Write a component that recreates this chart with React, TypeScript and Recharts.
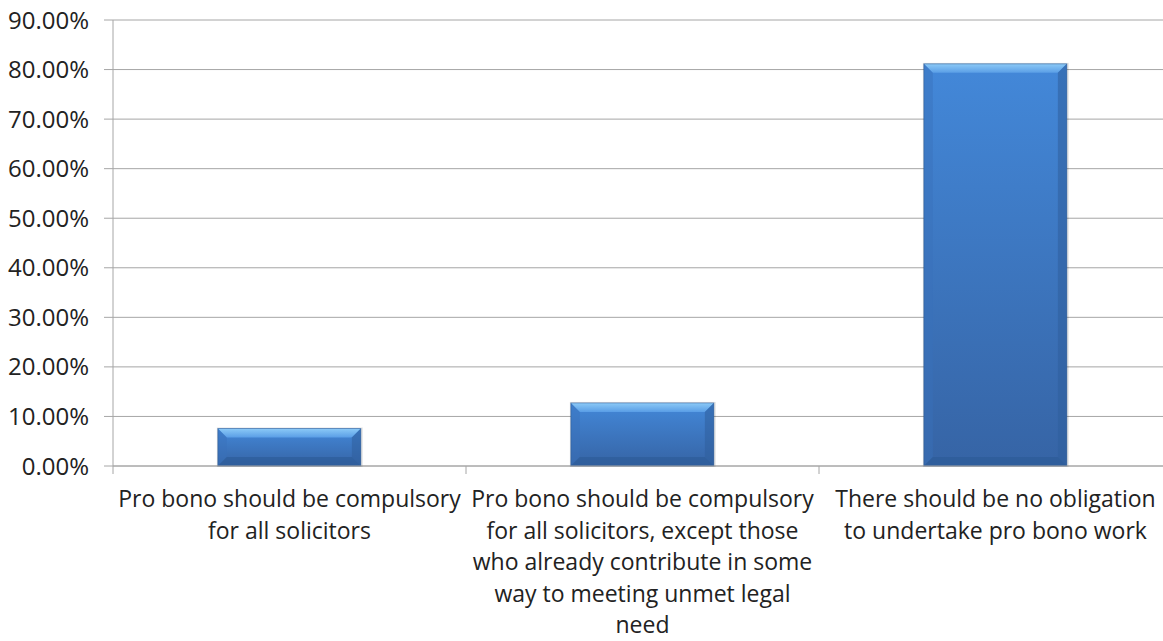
import { BarChart, Bar, XAxis, YAxis, CartesianGrid } from 'recharts'

const categories = [
  'Pro bono should be compulsory for all solicitors',
  'Pro bono should be compulsory for all solicitors, except those who already contribute in some way to meeting unmet legal need',
  'There should be no obligation to undertake pro bono work',
]
const shares = [0.0757, 0.1273, 0.8115]
const tickLines = [
  ['Pro bono should be compulsory', 'for all solicitors'],
  ['Pro bono should be compulsory', 'for all solicitors, except those', 'who already contribute in some', 'way to meeting unmet legal', 'need'],
  ['There should be no obligation', 'to undertake pro bono work'],
]
const yTicks = [0, 0.1, 0.2, 0.3, 0.4, 0.5, 0.6, 0.7, 0.8, 0.9]

const data = categories.map((name, i) => ({ name, share: shares[i], lines: tickLines[i] }))

const W = 1180
const H = 641
const AXIS_W = 113
const RIGHT = 8
const BAND = (W - AXIS_W - RIGHT) / categories.length
const FONT = '"Open Sans", sans-serif'
const GRID = '#a6a6a6'

function CategoryTick(props: any) {
  const { x, y, index } = props
  const lines = tickLines[index] || []
  const left = x - BAND / 2
  return (
    <g>
      <line x1={left} x2={left} y1={y - 8} y2={y} stroke={GRID} />
      <text x={x} y={y} textAnchor="middle" fontFamily={FONT} fontSize={23} fill="#222">
        {lines.map((l, i) => (
          <tspan key={i} x={x} y={y + 33 + i * 31.5}>{l}</tspan>
        ))}
      </text>
    </g>
  )
}

function BevelBar(props: any) {
  const { x, y, width, height } = props
  if (!height || height <= 0) return null
  const b = Math.min(9, height / 3)
  return (
    <g>
      <rect x={x - 1} y={y - 1} width={width + 3} height={height + 2} fill="#000" opacity={0.1} />
      <rect x={x} y={y} width={width} height={height} fill="url(#barBody)" />
      <polygon points={`${x},${y} ${x + width},${y} ${x + width - b},${y + b} ${x + b},${y + b}`} fill="url(#barTop)" />
      <polygon points={`${x},${y} ${x + b},${y + b} ${x + b},${y + height - b} ${x},${y + height}`} fill="#3a72bb" opacity={0.45} />
      <polygon points={`${x + width},${y} ${x + width},${y + height} ${x + width - b},${y + height - b} ${x + width - b},${y + b}`} fill="#2f5e9c" opacity={0.55} />
      <polygon points={`${x},${y + height} ${x + b},${y + height - b} ${x + width - b},${y + height - b} ${x + width},${y + height}`} fill="#2c5a96" opacity={0.6} />
      <rect x={x} y={y} width={width} height={height} fill="none" stroke="#2d5890" strokeWidth={1} opacity={0.5} />
    </g>
  )
}

export default function App() {
  return (
    <div style={{ position: 'absolute', left: 0, top: 0, width: 1163, height: H, overflow: 'hidden', background: '#fff' }}>
      <BarChart width={W} height={H} data={data} margin={{ top: 20, right: RIGHT, bottom: 0, left: 0 }} barCategoryGap="29.7%">
        <defs>
          <linearGradient id="barBody" x1="0" y1="0" x2="0" y2="1">
            <stop offset="0%" stopColor="#4388d9" />
            <stop offset="100%" stopColor="#3664a5" />
          </linearGradient>
          <linearGradient id="barTop" x1="0" y1="0" x2="0" y2="1">
            <stop offset="0%" stopColor="#8ccaf7" />
            <stop offset="100%" stopColor="#5a9ee6" />
          </linearGradient>
        </defs>
        <CartesianGrid vertical={false} stroke={GRID} strokeWidth={1} />
        <XAxis
          dataKey="name"
          height={H - 466}
          axisLine={{ stroke: GRID }}
          tickLine={false}
          interval={0}
          tick={<CategoryTick />}
        />
        <YAxis
          width={AXIS_W}
          domain={[0, 0.9]}
          ticks={yTicks}
          interval={0}
          axisLine={{ stroke: GRID }}
          tickLine={{ stroke: GRID }}
          tickSize={9}
          tickMargin={15}
          tickFormatter={(v: number) => (v * 100).toFixed(2) + '%'}
          tick={{ fontFamily: FONT, fontSize: 24, fill: '#222' }}
        />
        <Bar dataKey="share" shape={<BevelBar />} isAnimationActive={false} />
      </BarChart>
    </div>
  )
}
